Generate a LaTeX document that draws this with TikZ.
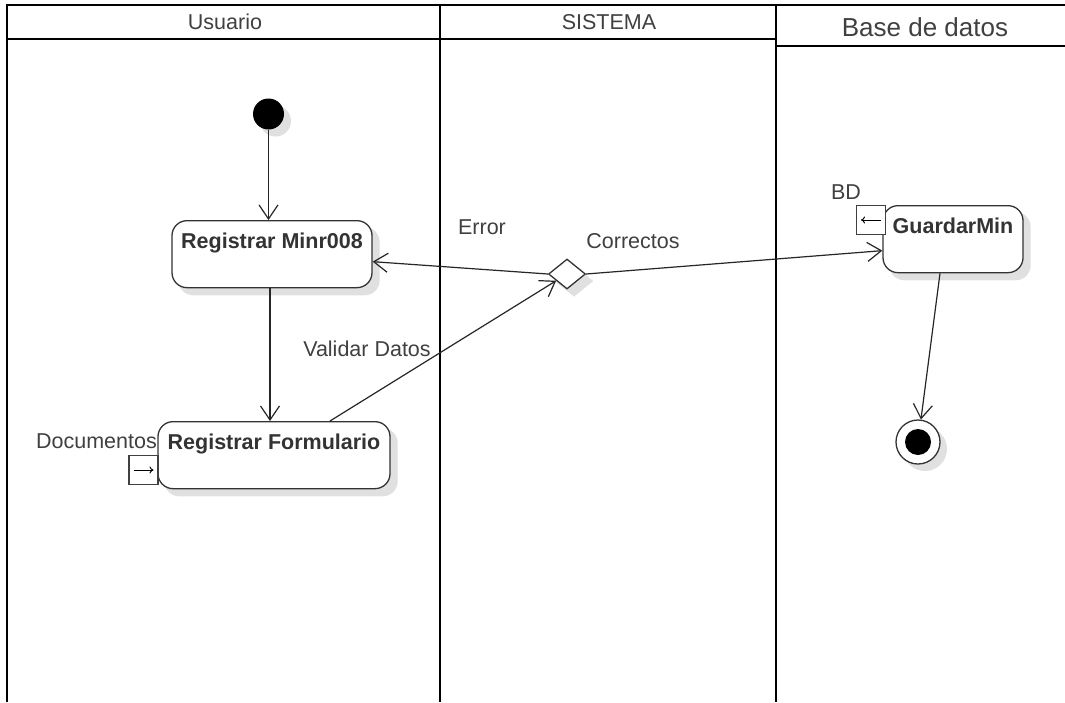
\documentclass[tikz,border=0pt]{standalone}
\usepackage{fontspec}
\setmainfont{Liberation Sans}
\usetikzlibrary{arrows.meta,shapes.geometric}
\pgfdeclarelayer{back}
\pgfdeclarelayer{shadow}
\pgfsetlayers{back,shadow,main}

\begin{document}
\begin{tikzpicture}
[x=1pt,y=-1pt,%
  lane/.style={line width=2.8pt},%
  head/.style={font=\fontsize{21.5}{24}\selectfont,text=black!75,inner sep=0pt},%
  txt/.style={font=\fontsize{21.5}{24}\selectfont,text=black!75,inner sep=0pt},%
  shadowfill/.style={fill=black!12},%
  act/.style={draw=black!80,line width=1.3pt,rounded corners=15pt,fill=white,%
    font=\fontsize{21.5}{24}\selectfont\bfseries,text=black!80,anchor=north,%
    inner xsep=0pt,inner ysep=0pt,text height=28pt,text depth=39pt},%
  pinbox/.style={draw=black!75,line width=1.3pt,fill=white,minimum size=29pt,inner sep=0pt},%
  flow/.style={draw=black!85,line width=1.2pt,-{Straight Barb[length=14pt,width=19pt]}}]
\useasboundingbox (0,0) rectangle (1065,702);
\begin{pgfonlayer}{back}
  \fill[white] (0,0) rectangle (1065,702);
\end{pgfonlayer}
% lanes
\draw[lane] (7,702) -- (7,5) -- (1068,5);
\draw[lane] (7,39) -- (776,39);
\draw[lane] (776,46) -- (1068,46);
\draw[lane] (440,5) -- (440,702);
\draw[lane] (776,5) -- (776,702);
\node[head] (hUsu) at (225,22) {Usuario};
\node[head] (hSis) at (609,22) {SISTEMA};
\node[head,font=\fontsize{26}{30}\selectfont] (hBas) at (925,27) {Base de datos};
% nodes
\node[circle,fill=black,minimum size=31pt,inner sep=0pt] (ini) at (268.5,114) {};
\node[act,minimum width=200pt] (minr) at (272,220) {Registrar Minr008};
\node[act,minimum width=232pt] (form) at (274,421) {Registrar Formulario};
\node[act,minimum width=140pt] (guar) at (953,205) {GuardarMin};
\node[diamond,draw=black!80,line width=1.3pt,fill=white,minimum width=37pt,minimum height=30pt,inner sep=0pt] (dec) at (567,274) {};
\node[circle,draw=black!80,line width=1.3pt,fill=white,minimum size=44pt,inner sep=0pt] (fin) at (918,442) {};
\fill (fin) circle (13pt);
% shadows
\begin{pgfonlayer}{shadow}
  \foreach \n in {minr,form,guar}
    \fill[shadowfill,rounded corners=15pt] ([shift={(7,7)}]\n.north west) rectangle ([shift={(7,7)}]\n.south east);
  \fill[shadowfill] ([shift={(7,7)}]ini.center) circle (15.5pt);
  \fill[shadowfill] ([shift={(7,7)}]fin.center) circle (22pt);
  \fill[shadowfill] ([shift={(7,7)}]dec.north) -- ([shift={(7,7)}]dec.east)
    -- ([shift={(7,7)}]dec.south) -- ([shift={(7,7)}]dec.west) -- cycle;
\end{pgfonlayer}
% pins
\node[pinbox] (pDoc) at (143.5,470) {};
\draw[line width=1pt,-{To[length=4pt,width=7pt]}] ([xshift=-10pt]pDoc.center) -- ([xshift=10pt]pDoc.center);
\node[pinbox] (pBD) at (871,220) {};
\draw[line width=1pt,-{To[length=4pt,width=7pt]}] ([xshift=10pt]pBD.center) -- ([xshift=-10pt]pBD.center);
\node[txt,anchor=base east] (lDoc) at (157,448) {Documentos};
\node[txt] (lBD) at (846,192) {BD};
% flows
\draw[flow] (ini.south) -- (ini.south |- minr.north);
\draw[flow] ([xshift=-2pt]minr.south) -- ([xshift=-2pt]minr.south |- form.north);
\draw[flow] ([xshift=56pt]form.north) -- (dec);
\draw[flow] (dec.west) -- ([yshift=-7.5pt]minr.east);
\draw[flow] (dec.east) -- ([yshift=-11.5pt]guar.west);
\draw[flow] ([xshift=-13pt]guar.south) -- (fin);
\node[txt] (lVal) at (367,349) {Validar Datos};
\node[txt] (lErr) at (482,227) {Error};
\node[txt] (lCor) at (633,241) {Correctos};
\end{tikzpicture}
\end{document}
